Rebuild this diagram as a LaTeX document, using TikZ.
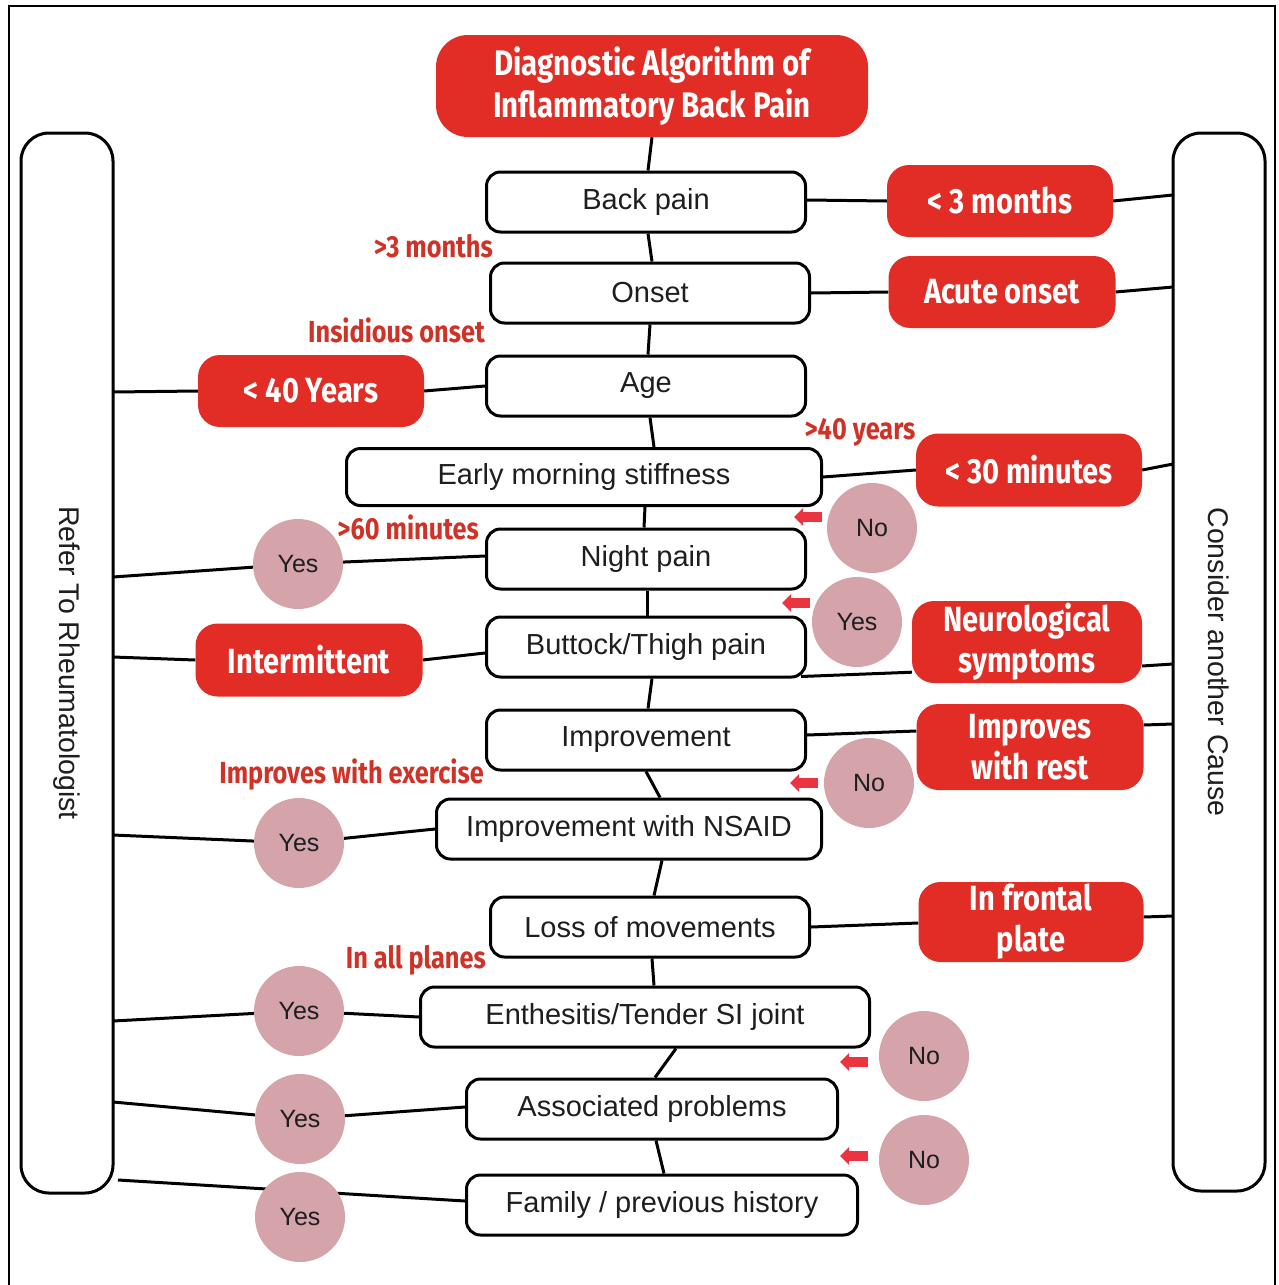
\documentclass[tikz,border=0pt]{standalone}
\usepackage{fontspec}
\setmainfont{Liberation Sans}
\newfontfamily\condfont{Fira Sans}[FakeStretch=0.83]
\usetikzlibrary{arrows.meta,calc,backgrounds}

\definecolor{boxred}{HTML}{E12D25}
\definecolor{labred}{HTML}{CF3328}
\definecolor{answerpink}{HTML}{D4A4AA}
\definecolor{arrred}{HTML}{EA3440}
\definecolor{ink}{HTML}{1E1E1E}

\tikzset{
  link/.style={line width=3pt, draw=black},
  stepbox/.style={draw=black, line width=3pt, rounded corners=14pt, fill=white,
    minimum height=60pt, inner sep=0pt, text=ink, font=\fontsize{29}{33}\selectfont},
  redbox/.style={fill=boxred, rounded corners=22pt, text=white, align=center,
    inner sep=0pt, font=\condfont\bfseries\fontsize{35}{41}\selectfont},
  cond/.style={text=labred, inner sep=0pt, font=\condfont\bfseries\fontsize{30.5}{33}\selectfont},
  answer/.style={circle, fill=answerpink, minimum size=90pt, inner sep=0pt,
    text=ink, font=\fontsize{25}{28}\selectfont},
  sidebox/.style={draw=black, line width=3pt, rounded corners=28pt, fill=white,
    minimum width=92pt, inner sep=0pt},
  sidetext/.style={rotate=-90, text=ink, font=\fontsize{28.5}{31}\selectfont},
  backarrow/.style={draw=arrred, line width=10pt, -{Triangle[length=9pt,width=17pt]}},
}

\begin{document}
\begin{tikzpicture}[x=1pt,y=-1pt]
\useasboundingbox (0,0) rectangle (1278,1285);

% open frame
\draw[line width=2pt] (9,1285) -- (9,6) -- (1275,6) -- (1275,1285);

% side columns
\node[sidebox, minimum height=1060pt] (refer) at (67,663) {};
\node[sidetext] at (refer.center) {Refer To Rheumatologist};
\node[sidebox, minimum height=1058pt] (other) at (1219,662) {};
\node[sidetext] at (other.center) {Consider another Cause};

% title
\node[redbox, rounded corners=32pt, minimum width=432pt, minimum height=102pt,
      font=\condfont\bfseries\fontsize{35.5}{42}\selectfont] (title) at (652,86)
      {Diagnostic Algorithm of\\Inflammatory Back Pain};

% main chain
\node[stepbox, minimum width=319pt] (back)   at (646,202)  {Back pain};
\node[stepbox, minimum width=319pt] (onset)  at (650,293)  {Onset};
\node[stepbox, minimum width=319pt] (age)    at (646,386)  {Age};
\node[stepbox, minimum width=475pt, minimum height=57pt] (ems) at (584,477) {Early morning stiffness};
\node[stepbox, minimum width=319pt] (night)  at (646,559)  {Night pain};
\node[stepbox, minimum width=319pt] (butt)   at (646,647)  {Buttock/Thigh pain};
\node[stepbox, minimum width=319pt] (impr)   at (646,740)  {Improvement};
\node[stepbox, minimum width=385pt] (nsaid)  at (629,829)  {Improvement with NSAID};
\node[stepbox, minimum width=319pt] (loss)   at (650,927)  {Loss of movements};
\node[stepbox, minimum width=449pt] (enth)   at (645,1017) {Enthesitis/Tender SI joint};
\node[stepbox, minimum width=371pt] (assoc)  at (652,1109) {Associated problems};
\node[stepbox, minimum width=391pt] (family) at (662,1205) {Family / previous history};

% outcomes pointing to another cause
\node[redbox, minimum width=226pt, minimum height=72pt] (lt3)     at (1000,201) {< 3 months};
\node[redbox, minimum width=227pt, minimum height=72pt] (acute)   at (1002,292) {Acute onset};
\node[redbox, minimum width=226pt, minimum height=73pt] (lt30)    at (1029,470) {< 30 minutes};
\node[redbox, minimum width=230pt, minimum height=82pt] (neuro)   at (1027,642) {Neurological\\symptoms};
\node[redbox, minimum width=227pt, minimum height=86pt] (rest)    at (1030,747) {Improves\\with rest};
\node[redbox, minimum width=225pt, minimum height=80pt] (frontal) at (1031,922) {In frontal\\plate};

% outcomes pointing to the rheumatologist
\node[redbox, minimum width=226pt, minimum height=72pt] (lt40)   at (311,391) {< 40 Years};
\node[redbox, minimum width=227pt, minimum height=73pt] (interm) at (309,660) {Intermittent};

% answers
\node[answer] (yes1) at (298,564)  {Yes};
\node[answer] (yes2) at (299,843)  {Yes};
\node[answer] (yes3) at (299,1011) {Yes};
\node[answer] (yes4) at (300,1119) {Yes};
\node[answer] (yes5) at (300,1217) {Yes};
\node[answer] (no1)  at (872,528)  {No};
\node[answer] (yes6) at (857,622)  {Yes};
\node[answer] (no2)  at (869,783)  {No};
\node[answer] (no3)  at (924,1056) {No};
\node[answer] (no4)  at (924,1160) {No};

% condition labels
\node[cond, anchor=east] (c1) at (493,246) {>3 months};
\node[cond, anchor=east] (c2) at (485,330) {Insidious onset};
\node[cond] (c3) at (860,432) {>40 years};
\node[cond, anchor=east] (c4) at (479,527) {>60 minutes};
\node[cond, anchor=east] (c5) at (484,775) {Improves with exercise};
\node[cond, anchor=east] (c6) at (486,960) {In all planes};

% attachment points on the side columns
\coordinate (l1) at (113,392);
\coordinate (l2) at (113,577);
\coordinate (l3) at (113,657);
\coordinate (l4) at (113,835);
\coordinate (l5) at (113,1021);
\coordinate (l6) at (113,1102);
\coordinate (l7) at (118,1180);
\coordinate (r1) at (1173,195);
\coordinate (r2) at (1173,287);
\coordinate (r3) at (1173,464);
\coordinate (r4) at (1173,664);
\coordinate (r5) at (1173,724);
\coordinate (r6) at (1173,916);

\begin{scope}[on background layer]
  % main chain
  \draw[link] ([xshift=0pt]title.south) -- ([xshift=2pt]back.north);
  \draw[link] ([xshift=2pt]back.south) -- ([xshift=2pt]onset.north);
  \draw[link] (onset.south) -- ([xshift=2pt]age.north);
  \draw[link] ([xshift=4pt]age.south) -- ([xshift=70pt]ems.north);
  \draw[link] ([xshift=61pt]ems.south) -- ([xshift=-2pt]night.north);
  \draw[link] ([xshift=1pt]night.south) -- ([xshift=1pt]butt.north);
  \draw[link] ([xshift=6pt]butt.south) -- ([xshift=2pt]impr.north);
  \draw[link] (impr.south) -- ([xshift=31pt]nsaid.north);
  \draw[link] ([xshift=33pt]nsaid.south) -- ([xshift=4pt]loss.north);
  \draw[link] ([xshift=2pt]loss.south) -- ([xshift=9pt]enth.north);
  \draw[link] ([xshift=31pt]enth.south) -- ([xshift=3pt]assoc.north);
  \draw[link] ([xshift=4pt]assoc.south) -- ([xshift=2pt]family.north);

  % right branches
  \draw[link] ([yshift=2pt]back.east) -- (lt3.west);
  \draw[link] (lt3.east) -- (r1);
  \draw[link] (onset.east) -- (acute.west);
  \draw[link] (acute.east) -- (r2);
  \draw[link] (ems.east) -- (lt30.west);
  \draw[link] (lt30.east) -- (r3);
  \draw[link] ([xshift=-6pt,yshift=2pt]butt.south east) -- ($(neuro.south west)+(0,-11)$);
  \draw[link] ($(neuro.east)+(0,24)$) -- (r4);
  \draw[link] ([yshift=5pt]impr.east) -- ($(rest.west)+(0,-16)$);
  \draw[link] ($(rest.east)+(0,-22)$) -- (r5);
  \draw[link] (loss.east) -- ($(frontal.west)+(0,1)$);
  \draw[link] ($(frontal.east)+(0,-5)$) -- (r6);

  % left branches
  \draw[link] (l1) -- (lt40.west);
  \draw[link] (lt40.east) -- (age.west);
  \draw[link] (l2) -- (yes1);
  \draw[link] (yes1) -- ([yshift=3pt]night.west);
  \draw[link] (l3) -- (interm.west);
  \draw[link] (interm.east) -- ([yshift=-6pt]butt.west);
  \draw[link] (l4) -- (yes2);
  \draw[link] (yes2) -- (nsaid.west);
  \draw[link] (l5) -- (yes3);
  \draw[link] (yes3) -- (enth.west);
  \draw[link] (l6) -- (yes4);
  \draw[link] (yes4) -- ([yshift=2pt]assoc.west);
  \draw[link] (l7) -- ([yshift=4pt]family.west);
\end{scope}

% return arrows beside the negative answers
\draw[backarrow] ($(no1)+(-50,-11)$)  -- ($(no1)+(-78,-11)$);
\draw[backarrow] ($(yes6)+(-47,-19)$) -- ($(yes6)+(-75,-19)$);
\draw[backarrow] ($(no2)+(-51,0)$)    -- ($(no2)+(-79,0)$);
\draw[backarrow] ($(no3)+(-56,6)$)    -- ($(no3)+(-84,6)$);
\draw[backarrow] ($(no4)+(-56,-4)$)   -- ($(no4)+(-84,-4)$);
\end{tikzpicture}
\end{document}
